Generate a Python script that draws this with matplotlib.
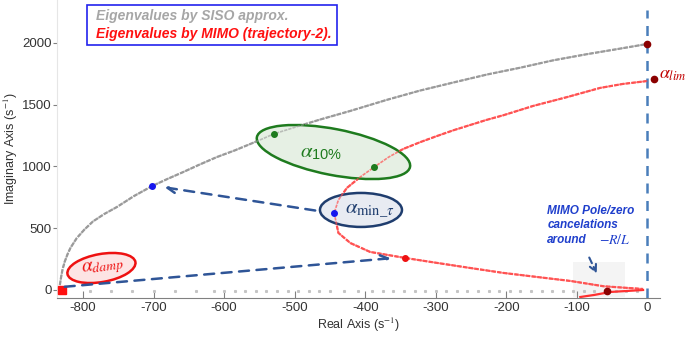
import matplotlib.pyplot as plt
from matplotlib.patches import Ellipse, Rectangle
from matplotlib.transforms import ScaledTranslation

plt.rcParams['font.family'] = ['Liberation Sans', 'DejaVu Sans']
plt.rcParams['mathtext.fontset'] = 'stix'
plt.rcParams['axes.unicode_minus'] = False

# SISO eigenvalue locus (grey)
siso_re = [-833, -831, -829, -826, -822, -818, -809, -798, -786, -770, -752, -728,
           -702, -680, -658, -635, -610, -585, -563, -545, -530, -497, -464, -421,
           -369, -322, -275, -227, -180, -133, -85, -43, 0]
siso_im = [40, 110, 170, 230, 290, 340, 420, 490, 555, 615, 672, 760,
           842, 900, 955, 1015, 1077, 1130, 1182, 1225, 1263, 1322, 1380, 1450,
           1540, 1615, 1680, 1745, 1800, 1860, 1910, 1950, 1992]

# MIMO eigenvalue locus (red), trajectory-2
mimo_re = [0, -35, -67, -113, -162, -204, -228, -251, -275, -298, -322, -346, -367,
           -387, -407, -426, -438, -444, -438, -421, -393, -343, -298, -251, -204,
           -156, -109, -62, -6]
mimo_im = [1692, 1668, 1636, 1563, 1490, 1415, 1377, 1336, 1293, 1247, 1197, 1142, 1075,
           996, 915, 826, 729, 623, 462, 380, 308, 259, 219, 178, 138,
           105, 73, 30, 8]
mimo_low_re = [-95, -75, -52, -20, -6]
mimo_low_im = [-57, -40, -16, -5, 0]

# real-axis poles (grey dots)
axis_re = [-790, -760, -730, -700, -670, -640, -615, -600, -585, -570, -555, -540,
           -525, -510, -495, -480, -465, -450, -430, -410, -390, -375, -360, -345,
           -330, -315, -300, -285, -270, -255, -240, -225, -210, -195, -180, -165,
           -150, -135, -120, -105, -90, -75, -60, -45, -30, -15]

fig = plt.figure(figsize=(6.86, 3.37), dpi=100)
ax = fig.add_axes([57/686, 39/337, 603/686, 298/337])
ax.set_xlim(-837, 18)
ax.set_ylim(-65, 2348)

ax.add_patch(Rectangle((-106, -57), 75, 284, color='#f4f4f4', zorder=0, lw=0))

ax.plot(axis_re, [-5] * len(axis_re), ls='none', marker='s', ms=1.2, color='#c4c4c4')
ax.plot(siso_re, siso_im, color='#9a9a9a', lw=1.6, ls=(0, (2, 0.6)))
ax.plot(mimo_re, mimo_im, color='#ff5555', lw=1.6, ls=(0, (2, 0.6)))
ax.plot(mimo_low_re, mimo_low_im, color='#ff3030', lw=1.6)

ax.axvline(0, ymin=0, ymax=0.965, color='#4a7ebb', lw=1.8, ls=(0, (4, 3)))


def ell(cx, cy, w, h, ang, fc, ec):
    tr = fig.dpi_scale_trans + ScaledTranslation(cx, cy, ax.transData)
    ax.add_patch(Ellipse((0, 0), w / 100, h / 100, angle=ang, transform=tr,
                         fc=fc, ec=ec, lw=1.8, zorder=3))


ell(-445, 1117, 156, 46, -11, '#e6f0e4', '#1e7b1e')
ell(-406, 648, 82, 34, 0, '#e8ebf2', '#1f3d6e')
ell(-774, 178, 69, 28, 10, '#fde4e4', '#ee1111')

# curve pieces shown through the ellipses
ax.plot(siso_re, siso_im, color='#9a9a9a', lw=1.2, ls=(0, (2, 0.6)), zorder=4, alpha=0.6)
ax.plot(mimo_re, mimo_im, color='#ff5050', lw=1.2, ls=(0, (2, 0.6)), zorder=4, alpha=0.7)

pts_x = [-702, -530, -444, -387, -343]
pts_y = [842, 1263, 623, 996, 259]
pts_c = ['#1515ee', '#1e7b1e', '#1515ee', '#1e7b1e', '#ee1111']
for px, py, pc in zip(pts_x, pts_y, pts_c):
    ax.plot(px, py, 'o', ms=4, color=pc, zorder=5)
ax.plot([0, 10, -57], [1992, 1708, -10], 'o', ms=4.5, color='#8b0000', zorder=5, clip_on=False)
ax.plot(-830, 0, 's', ms=6, color='#ff1010', zorder=5, clip_on=False)

arr = dict(arrowstyle='->', color='#2f5597', lw=1.8, ls=(0, (4, 3)), mutation_scale=14)
ax.annotate('', xy=(-688, 834), xytext=(-467, 640), arrowprops=arr, zorder=6)
ax.annotate('', xy=(-360, 259), xytext=(-830, 24), arrowprops=arr, zorder=6)
ax.annotate('', xy=(-70, 113), xytext=(-84, 283),
            arrowprops=dict(arrowstyle='->', color='#2f5597', lw=1.5, ls=(0, (3, 2)),
                            mutation_scale=12), zorder=6)

ax.text(-463, 1117, r'$\alpha_{\mathregular{10\%}}$', color='#1e7b1e', fontsize=15,
        ha='center', va='center', zorder=6)
ax.text(-393, 650, r'$\alpha_{\mathrm{min\_}\tau}$', color='#1f3d6e', fontsize=15,
        ha='center', va='center', zorder=6)
ax.text(-772, 180, r'$\alpha_{damp}$', color='#ee1111', fontsize=14, ha='center', va='center',
        rotation=8, zorder=6)
ax.text(17, 1745, r'$\alpha_{lim}$', color='#c00000', fontsize=13, ha='left', va='center',
        clip_on=False, zorder=6)

ax.text(-142, 690, 'MIMO Pole/zero\ncancelations\naround', color='#1f3fcc',
        fontsize=8.5, fontweight='bold', style='italic', ha='left', va='top', linespacing=1.3)
ax.text(-68, 372, '$-R/L$', color='#1f3fcc', fontsize=10, ha='left', va='baseline')

ax.text(-782, 2219, 'Eigenvalues by SISO approx.', color='#a6a6a6', fontsize=10,
        fontweight='bold', style='italic', ha='left', va='center', zorder=7)
ax.text(-782, 2073, 'Eigenvalues by MIMO (trajectory-2).', color='#ff1010', fontsize=10,
        fontweight='bold', style='italic', ha='left', va='center', zorder=7)
ax.add_patch(Rectangle((-794, 1984), 354, 324, fc='white', ec='#2222ee', lw=1.2, zorder=6))

for s in ['top', 'right']:
    ax.spines[s].set_visible(False)
ax.spines['bottom'].set_color('#808080')
ax.spines['left'].set_color('#e6e6e6')
ax.set_xticks([-800, -700, -600, -500, -400, -300, -200, -100, 0])
ax.set_yticks([0, 500, 1000, 1500, 2000])
ax.tick_params(axis='x', direction='in', length=5, color='#808080', labelsize=9.5,
               labelcolor='#333333', pad=3)
ax.tick_params(axis='y', direction='out', length=3, color='#808080', labelsize=9.5,
               labelcolor='#333333', pad=1)
ax.set_xlabel('Real Axis (s$^{-1}$)', fontsize=9, color='#333333', labelpad=1)
ax.set_ylabel('Imaginary Axis (s$^{-1}$)', fontsize=9, color='#333333', labelpad=1)

fig.savefig('out.png', dpi=100)
